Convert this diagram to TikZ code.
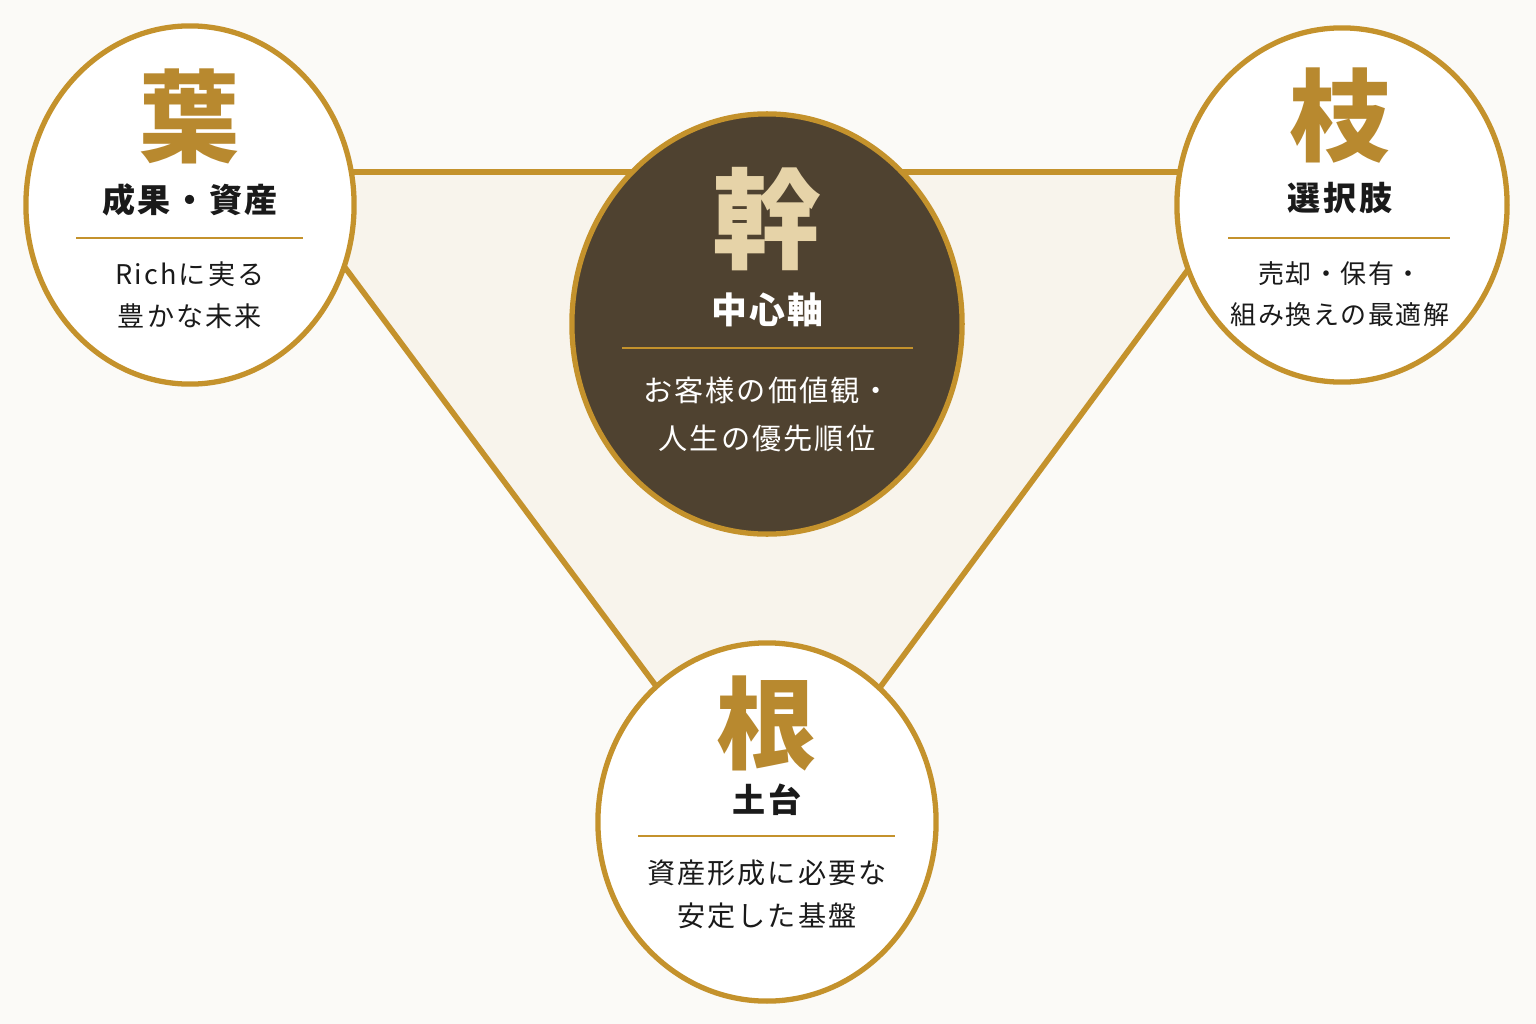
\documentclass[tikz,border=0pt]{standalone}
\usepackage{fontspec}
\newfontfamily\jp{Noto Sans CJK JP}
\usetikzlibrary{shapes.geometric}
\definecolor{bg}{HTML}{FBFAF7}
\definecolor{cream}{HTML}{F8F4EC}
\definecolor{gold}{HTML}{C4922C}
\definecolor{goldtxt}{HTML}{B8892F}
\definecolor{brown}{HTML}{4F4230}
\definecolor{paleg}{HTML}{E6D3A8}
\definecolor{ink}{HTML}{1A1A1A}
\tikzset{
  circ/.style={ellipse, draw=gold, line width=1.5pt, fill=white, inner sep=0pt},
  tri/.style={draw=gold, line width=1.6pt, fill=cream, line join=miter},
  sep/.style={draw=gold, line width=0.45pt},
  bigch/.style={text=goldtxt, inner sep=0pt, font=\jp\bfseries\fontsize{28.5}{30}\selectfont},
  ttl/.style={text=ink, inner sep=0pt, font=\jp\bfseries\fontsize{9.4}{11}\selectfont\addfontfeature{LetterSpace=8}},
  body/.style={text=ink, inner sep=0pt, align=center}
}
\begin{document}
\begin{tikzpicture}[x=0.01cm,y=-0.01cm]
\useasboundingbox (0,0) rectangle (1536,1024);
\fill[bg] (0,0) rectangle (1536,1024);
% triangle behind circles
\coordinate (tl) at (274,172);
\coordinate (tr) at (1260,172);
\coordinate (bt) at (769,838);
\draw[tri] (tl) -- (tr) -- (bt) -- cycle;
% circles
\node[circ, minimum width=3.28cm, minimum height=3.58cm] (leaf) at (190,205) {};
\node[circ, minimum width=3.30cm, minimum height=3.54cm] (branch) at (1342,205) {};
\node[circ, minimum width=3.38cm, minimum height=3.58cm] (root) at (767,822) {};
\node[circ, fill=brown, minimum width=3.90cm, minimum height=4.20cm] (trunk) at (767,324) {};
% leaf
\node[bigch] (leafch) at (190,116) {葉};
\node[ttl] (leaft) at (190,200) {成果・資産};
\coordinate (leafs1) at (76,238); \coordinate (leafs2) at (303,238);
\draw[sep] (leafs1) -- (leafs2);
\node[body, font=\jp\fontsize{7.7}{11.95}\selectfont\addfontfeature{LetterSpace=8}] (leafb) at (190,295) {Richに実る\\豊かな未来};
% trunk
\node[bigch, text=paleg, font=\jp\bfseries\fontsize{31}{33}\selectfont] (trunkch) at (767,219) {幹};
\node[ttl, text=white, font=\jp\bfseries\fontsize{10.2}{12}\selectfont\addfontfeature{LetterSpace=6}] (trunkt) at (767,310) {中心軸};
\coordinate (trunks1) at (622,348); \coordinate (trunks2) at (913,348);
\draw[sep] (trunks1) -- (trunks2);
\node[body, text=white, font=\jp\fontsize{8.3}{13.66}\selectfont\addfontfeature{LetterSpace=7}] (trunkb) at (767,414) {お客様の価値観・\\人生の優先順位};
% branch
\node[bigch] (branchch) at (1340,116) {枝};
\node[ttl] (brancht) at (1340,198) {選択肢};
\coordinate (branchs1) at (1228,238); \coordinate (branchs2) at (1450,238);
\draw[sep] (branchs1) -- (branchs2);
\node[body, font=\jp\fontsize{7.4}{11.67}\selectfont\addfontfeature{LetterSpace=6}] (branchb) at (1340,294) {売却・保有・\\組み換えの最適解};
% root
\node[bigch] (rootch) at (767,723) {根};
\node[ttl] (roott) at (767,800) {土台};
\coordinate (roots1) at (638,836); \coordinate (roots2) at (895,836);
\draw[sep] (roots1) -- (roots2);
\node[body, font=\jp\fontsize{8}{12.23}\selectfont\addfontfeature{LetterSpace=7}] (rootb) at (767,894) {資産形成に必要な\\安定した基盤};
\end{tikzpicture}
\end{document}
